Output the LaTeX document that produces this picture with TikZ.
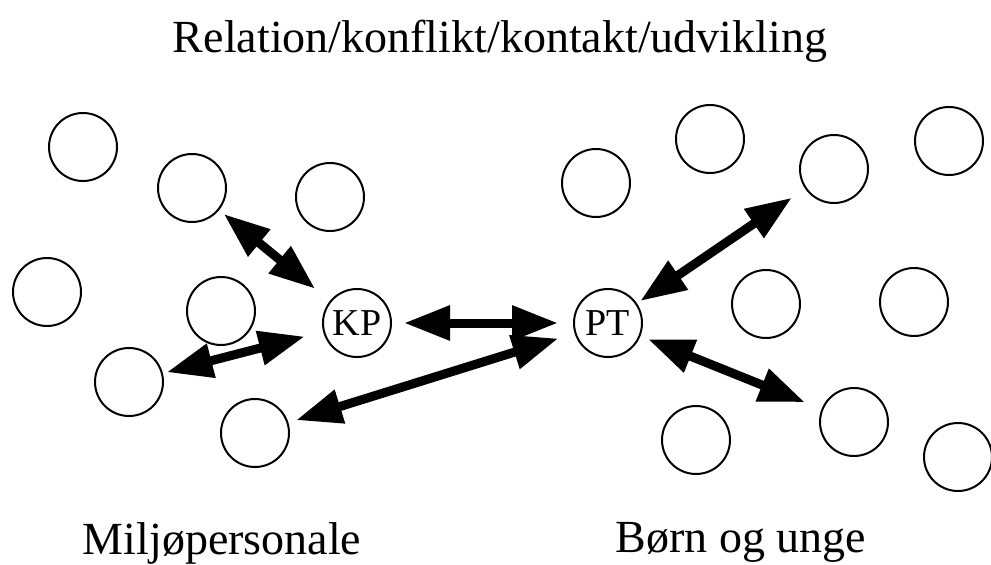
\documentclass[tikz,border=0pt]{standalone}
\usepackage{fontspec}
\setmainfont{Liberation Serif}
\usetikzlibrary{arrows.meta}

\tikzset{
  person/.style={circle, draw, line width=2pt, minimum size=68pt, inner sep=0pt},
  hub/.style={person, font=\fontsize{38}{40}\selectfont},
  relation/.style={line width=9pt,
    {Triangle[length=46pt,width=33pt]}-{Triangle[length=46pt,width=33pt]}},
  bigtext/.style={anchor=base, inner sep=0pt, font=\fontsize{46}{50}\selectfont}
}

\begin{document}
\begin{tikzpicture}[x=1pt,y=-1pt]
\useasboundingbox (0,0) rectangle (991,565);

% heading and group labels
\node[bigtext] (title) at (500,52) {Relation/konflikt/kontakt/udvikling};
\node[bigtext] (staff) at (222,554) {Miljøpersonale};
\node[bigtext] (kids)  at (741,552) {Børn og unge};

% staff side
\node[person] (a) at (83,147) {};
\node[person] (b) at (192,188) {};
\node[person] (c) at (330,197) {};
\node[person] (d) at (47,292) {};
\node[person] (e) at (221,311) {};
\node[person] (f) at (129,382) {};
\node[person] (g) at (255,433) {};
\node[hub]    (kp) at (357,323) {KP};

% children side
\node[person] (h) at (596,183) {};
\node[person] (i) at (710,139) {};
\node[person] (j) at (834,169) {};
\node[person] (k) at (949,141) {};
\node[person] (l) at (766,304) {};
\node[person] (m) at (914,302) {};
\node[person] (n) at (696,440) {};
\node[person] (o) at (854,422) {};
\node[person] (p) at (958,457) {};
\node[hub]    (pt) at (608,323) {PT};

% two-way relations
\draw[relation, shorten <=6pt,  shorten >=19pt] (b) -- (kp);
\draw[relation, shorten <=4pt,  shorten >=19pt] (f) -- (kp);
\draw[relation, shorten <=12pt, shorten >=15pt] (kp) -- (pt);
\draw[relation, shorten <=8pt,  shorten >=17pt] (g) -- (pt);
\draw[relation, shorten <=4pt,  shorten >=16pt] (pt) -- (j);
\draw[relation, shorten <=8pt,  shorten >=18pt] (pt) -- (o);
\end{tikzpicture}
\end{document}
